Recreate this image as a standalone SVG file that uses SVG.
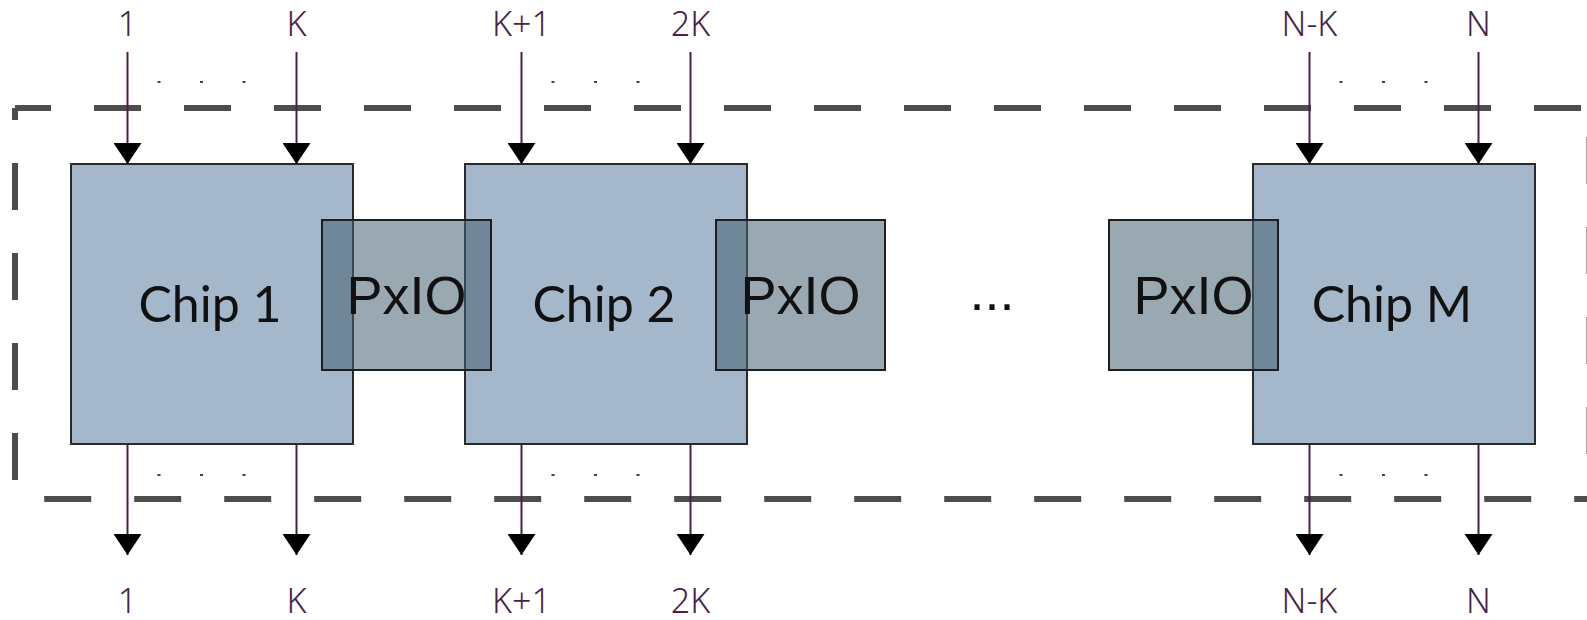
<svg xmlns="http://www.w3.org/2000/svg" width="1587" height="620" viewBox="0 0 1587 620">
<defs>
<marker id="ah" markerUnits="userSpaceOnUse" markerWidth="22" markerHeight="28" viewBox="0 0 22 28" refX="21" refY="14" orient="auto">
<path d="M0,0 L21,14 L0,28 Z" fill="#000"/>
</marker>
</defs>
<style>
.frame{fill:none;stroke:#4d4d4d;stroke-width:6;stroke-dasharray:47 43}
.chip{fill:#a4b7cb;stroke:#2a2a2a;stroke-width:2}
.pxio{fill:#456171;fill-opacity:0.55;stroke:#1e1e1e;stroke-width:2}
.wire{stroke:#4a1f4a;stroke-width:2;fill:none;marker-end:url(#ah)}
.lbl{font-family:"Noto Sans","Liberation Sans",Arial,sans-serif;font-weight:300;font-size:34px;fill:#4a1f4a;text-anchor:middle}
.chipt{font-family:Lato,"Open Sans",sans-serif;font-size:50px;fill:#111;text-anchor:middle}
.pxt{font-family:"Liberation Sans",Arial,sans-serif;font-size:54px;fill:#111;text-anchor:middle}
.dot{fill:#444}
</style>
<rect width="1587" height="620" fill="#fff"/>
<g id="frame">
<line class="frame" x1="15" y1="108" x2="1593" y2="108" stroke-dashoffset="11"/>
<line class="frame" x1="15" y1="108" x2="15" y2="499" stroke-dashoffset="35"/>
<line class="frame" x1="1589.5" y1="108" x2="1589.5" y2="499" stroke-dasharray="49 44" stroke-dashoffset="61"/>
<line class="frame" x1="15" y1="499" x2="1593" y2="499" stroke-width="5" stroke-dasharray="46 42.2" stroke-dashoffset="60.8"/>
</g>
<g id="chip1">
<rect class="chip" x="71" y="164" width="282" height="280"/>
<text class="chipt" x="210" y="322">Chip 1</text>
</g>
<g id="chip2">
<rect class="chip" x="465" y="164" width="282" height="280"/>
<text class="chipt" x="604" y="322">Chip 2</text>
</g>
<g id="chipM">
<rect class="chip" x="1253" y="164" width="282" height="280"/>
<text class="chipt" x="1392" y="322">Chip M</text>
</g>
<g id="pxio1">
<rect class="pxio" x="322" y="220" width="169" height="150"/>
<text class="pxt" x="406.5" y="314">PxIO</text>
</g>
<g id="pxio2">
<rect class="pxio" x="716" y="220" width="169" height="150"/>
<text class="pxt" x="800.5" y="314">PxIO</text>
</g>
<g id="pxio3">
<rect class="pxio" x="1109" y="220" width="169" height="150"/>
<text class="pxt" x="1193.5" y="314">PxIO</text>
</g>
<g id="ellipsis">
<text x="992" y="310" font-family="Liberation Sans, Arial, sans-serif" font-size="54" fill="#111" text-anchor="middle">...</text>
</g>
<g id="connectors">
<line class="wire" x1="127.5" y1="52" x2="127.5" y2="164"/>
<line class="wire" x1="296.5" y1="52" x2="296.5" y2="164"/>
<line class="wire" x1="521.5" y1="52" x2="521.5" y2="164"/>
<line class="wire" x1="690.5" y1="52" x2="690.5" y2="164"/>
<line class="wire" x1="1309.5" y1="52" x2="1309.5" y2="164"/>
<line class="wire" x1="1478.5" y1="52" x2="1478.5" y2="164"/>
<line class="wire" x1="127.5" y1="445" x2="127.5" y2="555"/>
<line class="wire" x1="296.5" y1="445" x2="296.5" y2="555"/>
<line class="wire" x1="521.5" y1="445" x2="521.5" y2="555"/>
<line class="wire" x1="690.5" y1="445" x2="690.5" y2="555"/>
<line class="wire" x1="1309.5" y1="445" x2="1309.5" y2="555"/>
<line class="wire" x1="1478.5" y1="445" x2="1478.5" y2="555"/>
</g>
<g id="dots">
<rect class="dot" x="157.5" y="81" width="3" height="2"/>
<rect class="dot" x="200" y="81" width="3" height="2"/>
<rect class="dot" x="242.5" y="81" width="3" height="2"/>
<rect class="dot" x="551.5" y="81" width="3" height="2"/>
<rect class="dot" x="594" y="81" width="3" height="2"/>
<rect class="dot" x="636.5" y="81" width="3" height="2"/>
<rect class="dot" x="1339.5" y="81" width="3" height="2"/>
<rect class="dot" x="1382" y="81" width="3" height="2"/>
<rect class="dot" x="1424.5" y="81" width="3" height="2"/>
<rect class="dot" x="157.5" y="474" width="3" height="2"/>
<rect class="dot" x="200" y="474" width="3" height="2"/>
<rect class="dot" x="242.5" y="474" width="3" height="2"/>
<rect class="dot" x="551.5" y="474" width="3" height="2"/>
<rect class="dot" x="594" y="474" width="3" height="2"/>
<rect class="dot" x="636.5" y="474" width="3" height="2"/>
<rect class="dot" x="1339.5" y="474" width="3" height="2"/>
<rect class="dot" x="1382" y="474" width="3" height="2"/>
<rect class="dot" x="1424.5" y="474" width="3" height="2"/>
</g>
<g id="labels">
<text class="lbl" x="127.5" y="36">1</text>
<text class="lbl" x="296.5" y="36">K</text>
<text class="lbl" x="521.5" y="36">K+1</text>
<text class="lbl" x="690.5" y="36">2K</text>
<text class="lbl" x="1309.5" y="36">N-K</text>
<text class="lbl" x="1478.5" y="36">N</text>
<text class="lbl" x="127.5" y="613">1</text>
<text class="lbl" x="296.5" y="613">K</text>
<text class="lbl" x="521.5" y="613">K+1</text>
<text class="lbl" x="690.5" y="613">2K</text>
<text class="lbl" x="1309.5" y="613">N-K</text>
<text class="lbl" x="1478.5" y="613">N</text>
</g>
</svg>
